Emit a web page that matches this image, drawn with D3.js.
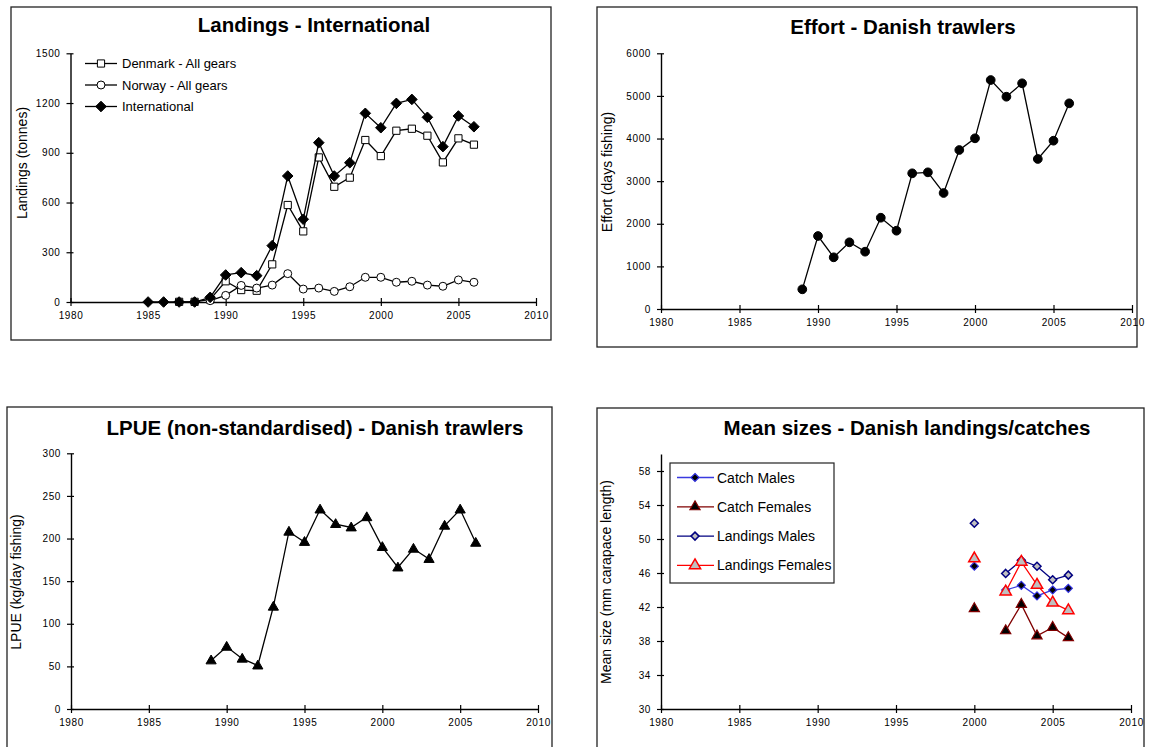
<!DOCTYPE html>
<html><head><meta charset="utf-8">
<script src="https://cdn.jsdelivr.net/npm/d3@7"></script>
<style>
body{margin:0;background:#fff}
svg{display:block}
text{font-family:"Liberation Sans",Arial,sans-serif;fill:#000}
</style>
</head><body>
<svg id="c" width="1152" height="747"></svg>
<script>
// ---------- data ----------
const xTickYears = [1980, 1985, 1990, 1995, 2000, 2005, 2010];

const landingYears = d3.range(1985, 2007);
const denmarkLandings = [null, null, 1, 1, 15, 125, 72, 68, 227, 585, 426, 872, 695, 750, 977, 880, 1033, 1045, 1003, 842, 987, 949];
const norwayLandings = [null, null, null, null, 8, 40, 100, 84, 102, 171, 78, 84, 64, 92, 149, 149, 119, 125, 102, 95, 133, 119];
const internationalLandings = [0, 0, 0, 0, 28, 163, 177, 159, 340, 760, 499, 961, 760, 840, 1138, 1051, 1198, 1222, 1114, 937, 1122, 1057];
const landingTicks = [0, 300, 600, 900, 1200, 1500];

const effortYears = d3.range(1989, 2007);
const effortDays = [462, 1713, 1213, 1565, 1345, 2142, 1837, 3184, 3207, 2722, 3731, 4005, 5373, 4981, 5296, 3520, 3949, 4826];
const effortTicks = [0, 1000, 2000, 3000, 4000, 5000, 6000];

const lpueYears = d3.range(1989, 2007);
const lpueValues = [57, 73, 59, 51, 120, 208, 196, 234, 217, 213, 225, 190, 166, 188, 176, 215, 234, 195];
const lpueTicks = [0, 50, 100, 150, 200, 250, 300];

const sizeYears = [2000, 2001, 2002, 2003, 2004, 2005, 2006];
const catchMales = [46.8, null, 44.0, 44.55, 43.3, 44.0, 44.2];
const catchFemales = [41.8, null, 39.2, 42.3, 38.6, 39.6, 38.4];
const landingsMales = [51.85, null, 45.95, 47.5, 46.8, 45.2, 45.75];
const landingsFemales = [47.7, null, 43.8, 47.3, 44.6, 42.5, 41.6];
const sizeTicks = [30, 34, 38, 42, 46, 50, 54, 58];

// ---------- drawing ----------
const svg = d3.select("#c");

function symbolPath(type, size) {
  if (type === "diamond") {
    const r = size;
    return `M0,${-r}L${r},0L0,${r}L${-r},0Z`;
  }
  const t = {square: d3.symbolSquare, circle: d3.symbolCircle, triangle: d3.symbolTriangle}[type];
  return d3.symbol().type(t).size(size)();
}

function styleAxisText(sel) {
  sel.attr("font-size", 10).attr("letter-spacing", "0.6px").attr("fill", "#222")
    .style("font-family", '"Liberation Sans",Arial,sans-serif');
}

function panel(cfg) {
  const g = svg.append("g");
  g.append("rect").attr("x", cfg.box[0]).attr("y", cfg.box[1])
    .attr("width", cfg.box[2] - cfg.box[0]).attr("height", cfg.box[3] - cfg.box[1])
    .attr("fill", "none").attr("stroke", "#222").attr("stroke-width", 1.3);
  const x = d3.scaleLinear().domain([1980, 2010]).range(cfg.xr);
  const y = d3.scaleLinear().domain(cfg.yd).range(cfg.yr);

  const ya = g.append("g").attr("transform", `translate(${cfg.xr[0]},0)`)
    .call(d3.axisLeft(y).tickValues(cfg.yticks).tickFormat(d3.format("d")).tickSize(4).tickPadding(6).tickSizeOuter(0));
  ya.select(".domain").attr("stroke", "#000").attr("stroke-width", 1.4);
  ya.selectAll(".tick line").attr("x1", 3).attr("x2", -4).attr("stroke", "#000").attr("stroke-width", 1.2);
  styleAxisText(ya.selectAll(".tick text"));

  const xa = g.append("g").attr("transform", `translate(0,${cfg.yr[0]})`)
    .call(d3.axisBottom(x).tickValues(xTickYears).tickFormat(d3.format("d")).tickSize(4).tickPadding(6).tickSizeOuter(0));
  xa.select(".domain").attr("stroke", "#000").attr("stroke-width", 1.4);
  xa.selectAll(".tick line").attr("y1", -4).attr("y2", 4).attr("stroke", "#000").attr("stroke-width", 1.2);
  styleAxisText(xa.selectAll(".tick text"));

  g.append("text").attr("x", cfg.title[0]).attr("y", cfg.title[1]).attr("text-anchor", "middle")
    .attr("font-size", 20.5).attr("font-weight", "bold").text(cfg.title[2]);
  g.append("text").attr("transform", `translate(${cfg.ylab[0]},${cfg.ylab[1]}) rotate(-90)`)
    .attr("text-anchor", "middle").attr("font-size", 14).attr("fill", "#111").text(cfg.ylab[2]);

  cfg.series.forEach(s => {
    const pts = s.years.map((yr, i) => ({yr, v: s.values[i]}));
    const line = d3.line().defined(d => d.v != null).x(d => x(d.yr)).y(d => y(d.v));
    g.append("path").attr("d", line(pts)).attr("fill", "none").attr("stroke", s.line).attr("stroke-width", s.lw || 1.3);
    g.selectAll(null).data(pts.filter(d => d.v != null)).enter().append("path")
      .attr("transform", d => `translate(${x(d.yr)},${y(d.v) + (s.dy || 0)})`)
      .attr("d", symbolPath(s.symbol, s.size))
      .attr("fill", s.fill).attr("stroke", s.stroke).attr("stroke-width", s.sw || 1);
  });
  return g;
}

// Panel 1: Landings - International
const s1 = [
  {name: "Denmark - All gears", years: landingYears, values: denmarkLandings, symbol: "square", size: 52, fill: "#fff", stroke: "#000", line: "#000"},
  {name: "Norway - All gears", years: landingYears, values: norwayLandings, symbol: "circle", size: 50, fill: "#fff", stroke: "#000", line: "#000"},
  {name: "International", years: landingYears, values: internationalLandings, symbol: "diamond", size: 5.3, fill: "#000", stroke: "#000", line: "#000"}
];
const p1 = panel({box: [11, 7, 551, 340], xr: [70.5, 536], yr: [302, 53.3], yd: [0, 1500], yticks: landingTicks,
  title: [314, 32, "Landings - International"], ylab: [27, 163, "Landings (tonnes)"], series: s1});
s1.forEach((s, i) => {
  const ly = 63.5 + i * 21.5;
  p1.append("line").attr("x1", 85).attr("x2", 117).attr("y1", ly).attr("y2", ly).attr("stroke", "#000").attr("stroke-width", 1.3);
  p1.append("path").attr("transform", `translate(101,${ly})`).attr("d", symbolPath(s.symbol, s.size))
    .attr("fill", s.fill).attr("stroke", s.stroke);
  p1.append("text").attr("x", 122).attr("y", ly + 4.5).attr("font-size", 13).attr("fill", "#111").text(s.name);
});

// Panel 2: Effort
panel({box: [597, 7, 1137, 347], xr: [661, 1132], yr: [309, 53.3], yd: [0, 6000], yticks: effortTicks,
  title: [903, 34, "Effort - Danish trawlers"], ylab: [612, 172, "Effort (days fishing)"],
  series: [{years: effortYears, values: effortDays, symbol: "circle", size: 60, fill: "#000", stroke: "#000", line: "#000"}]});

// Panel 3: LPUE
panel({box: [7, 407, 552, 760], xr: [71, 538], yr: [709, 453.3], yd: [0, 300], yticks: lpueTicks,
  title: [315, 435, "LPUE (non-standardised) - Danish trawlers"], ylab: [21, 582, "LPUE (kg/day fishing)"],
  series: [{years: lpueYears, values: lpueValues, symbol: "triangle", size: 45, fill: "#000", stroke: "#000", line: "#000", dy: 0.5}]});

// Panel 4: Mean sizes
const s4 = [
  {name: "Catch Males", years: sizeYears, values: catchMales, symbol: "diamond", size: 4, fill: "#000", stroke: "#3030e0", line: "#3a3ae0", sw: 1.2},
  {name: "Catch Females", years: sizeYears, values: catchFemales, symbol: "triangle", size: 45, fill: "#000", stroke: "#800000", line: "#800000", sw: 1.2},
  {name: "Landings Males", years: sizeYears, values: landingsMales, symbol: "diamond", size: 4, fill: "#c0c0c0", stroke: "#000080", line: "#000080", sw: 1.5},
  {name: "Landings Females", years: sizeYears, values: landingsFemales, symbol: "triangle", size: 55, fill: "#c0c0c0", stroke: "#ff0000", line: "#ff0000", sw: 1.5}
];
const p4 = panel({box: [597, 408, 1144, 760], xr: [661, 1131], yr: [709, 454], yd: [30, 60], yticks: sizeTicks,
  title: [907, 435, "Mean sizes - Danish landings/catches"], ylab: [611, 582, "Mean size (mm carapace length)"], series: s4});
p4.append("rect").attr("x", 670).attr("y", 463).attr("width", 164).attr("height", 120)
  .attr("fill", "#fff").attr("stroke", "#222").attr("stroke-width", 1.2);
s4.forEach((s, i) => {
  const ly = 477.5 + i * 29.3;
  p4.append("line").attr("x1", 677).attr("x2", 714).attr("y1", ly).attr("y2", ly).attr("stroke", s.line).attr("stroke-width", 1.3);
  p4.append("path").attr("transform", `translate(695,${ly})`).attr("d", symbolPath(s.symbol, s.size))
    .attr("fill", s.fill).attr("stroke", s.stroke).attr("stroke-width", s.sw);
  p4.append("text").attr("x", 717).attr("y", ly + 5).attr("font-size", 14).attr("fill", "#111").text(s.name);
});
</script>
</body></html>
